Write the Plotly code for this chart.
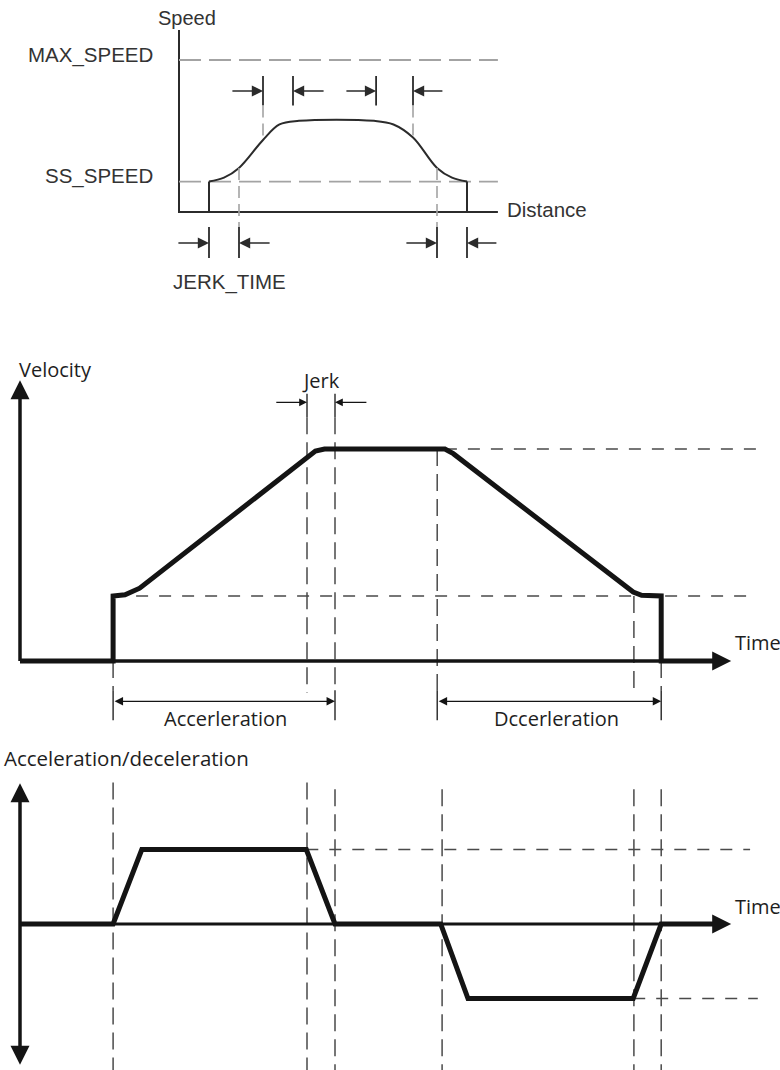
import plotly.graph_objects as go

# ---------------------------------------------------------------------
# Data (diagram units)
# ---------------------------------------------------------------------
# Panel 1: speed over distance (S-curve with JERK_TIME)
DIST_END = 10.63
SPEED_TOP = 5.99
SPEED_LABELS = ["MAX_SPEED", "SS_SPEED"]
SPEED_LEVELS = [5.0, 1.0]
SS_SPEED = SPEED_LEVELS[1]
JUMP_D = [1.0, 9.6]                       # step from 0 up to SS_SPEED
CURVE_D = [1.0, 1.5, 2.0, 2.8, 3.35, 4.0, 6.5, 7.15, 7.8, 8.6, 9.1, 9.6]
CURVE_S = [1.0, 1.13, 1.45, 2.37, 2.88, 3.0, 3.0, 2.88, 2.45, 1.45, 1.13, 1.0]
TOP_MARKS = [2.8, 3.8, 6.57, 7.8]
TOP_MARK_DROP = [2.37, None, None, 2.5]   # dashed guide down to the curve
BOTTOM_MARKS = [1.0, 2.0, 8.6, 9.6]
BOTTOM_MARK_RISE = [None, 1.45, 1.45, None]
TOP_ARROWS = [(1.73, 2.8), (4.87, 3.8), (5.53, 6.57), (8.83, 7.8)]      # (tail, head)
BOTTOM_ARROWS = [(-0.07, 1.0), (3.07, 2.0), (7.53, 8.6), (10.63, 9.6)]

# Panel 2: velocity over time
VEL_T = [0, 1.33, 1.33, 1.5, 1.71, 4.1, 4.22, 4.35, 6.07, 6.19, 8.76, 8.88, 9.0, 9.16, 9.16, 9.95]
VEL_V = [0, 0, 1.0, 1.02, 1.12, 3.14, 3.23, 3.26, 3.26, 3.19, 1.06, 1.01, 1.0, 1.0, 0, 0]
V_SS = 1.0
V_MAX = 3.26
TIME_TIP = 10.16
VEL_TIP = 4.32
JERK_T = [4.1, 4.5]
ACC_SPAN = (1.33, 4.5)
DEC_SPAN = (5.96, 9.16)

# Panel 3: acceleration / deceleration over time
ACC_T = [0, 1.33, 1.74, 4.09, 4.5, 6.01, 6.4, 8.76, 9.16, 9.95]
ACC_A = [0, 0, 1, 1, 0, 0, -1, -1, 0, 0]
ACC_TIP = 1.89
ACC_GUIDES_T = [1.33, 4.1, 4.5, 6.03, 8.77, 9.16]

# ---------------------------------------------------------------------
# Styles
# ---------------------------------------------------------------------
W, H = 780, 1070
INK1 = "#2b2b2b"
GREY1 = "#a3a3a3"
INK = "#141414"
GUIDE = "#4a4a4a"
FONT1 = "Liberation Sans, Arial, sans-serif"
FONT2 = "Open Sans, Noto Sans, sans-serif"


def line(xs, ys, xa, ya, color, width, dash="solid", shape="linear"):
    return go.Scatter(
        x=xs, y=ys, xaxis=xa, yaxis=ya, mode="lines",
        line=dict(color=color, width=width, dash=dash, shape=shape, smoothing=1.0),
        hoverinfo="skip", showlegend=False,
    )


def tip(x, y, xa, ya, symbol):
    return go.Scatter(
        x=[x], y=[y], xaxis=xa, yaxis=ya, mode="markers",
        marker=dict(symbol=symbol, size=19, color=INK, line=dict(width=0)),
        hoverinfo="skip", showlegend=False,
    )


def label(text, x, y, xr, yr, family, size, color, xanchor="center"):
    return dict(text=text, x=x, y=y, xref=xr, yref=yr, showarrow=False,
                xanchor=xanchor, yanchor="middle",
                font=dict(family=family, size=size, color=color))


def arrow(head, tail, y, xr, yr, color, width, size, both=False):
    a = dict(text="", x=head, y=y, ax=tail, ay=y, xref=xr, yref=yr,
             axref=xr, ayref=yr, showarrow=True, arrowhead=2,
             arrowsize=size, arrowwidth=width, arrowcolor=color, standoff=0)
    if both:
        a.update(arrowside="end+start", startarrowhead=2, startarrowsize=size,
                 startstandoff=0)
    return a


fig = go.Figure()
notes = []

# ---------------- panel 1 ----------------
fig.add_trace(line([0, 0, DIST_END], [SPEED_TOP, 0, 0], "x", "y", INK1, 2))
for lvl in SPEED_LEVELS:
    fig.add_trace(line([0, DIST_END], [lvl, lvl], "x", "y", GREY1, 1.8, "22px,8px"))
for d in JUMP_D:
    fig.add_trace(line([d, d], [0, SS_SPEED], "x", "y", INK1, 2))
fig.add_trace(line(CURVE_D, CURVE_S, "x", "y", INK1, 2, shape="spline"))

for d, drop in zip(TOP_MARKS, TOP_MARK_DROP):
    fig.add_trace(line([d, d], [3.5, 4.47], "x", "y", INK1, 1.8))
    if drop is not None:
        fig.add_trace(line([d, d], [3.5, drop], "x", "y", GREY1, 1.6, "12px,6px"))
for d, rise in zip(BOTTOM_MARKS, BOTTOM_MARK_RISE):
    fig.add_trace(line([d, d], [-0.49, -1.51], "x", "y", INK1, 1.8))
    if rise is not None:
        fig.add_trace(line([d, d], [rise, -0.49], "x", "y", GREY1, 1.6, "12px,6px"))

for tail, head in TOP_ARROWS:
    notes.append(arrow(head, tail, 3.98, "x", "y", INK1, 1.6, 1.4))
for tail, head in BOTTOM_ARROWS:
    notes.append(arrow(head, tail, -1.02, "x", "y", INK1, 1.6, 1.4))

notes.append(label("Speed", 0.27, 6.38, "x", "y", FONT1, 20, "#333"))
for txt, lvl in zip(SPEED_LABELS, [5.16, 1.18]):
    notes.append(label(txt, -0.8, lvl, "x", "y", FONT1, 20.5, "#333", "right"))
notes.append(label("Distance", 10.87, 0.07, "x", "y", FONT1, 20.5, "#333", "left"))
notes.append(label("JERK_TIME", 1.67, -2.3, "x", "y", FONT1, 20.5, "#333"))

# ---------------- panel 2 ----------------
hd2 = "17px,8px"
hh2 = "12px,11px"
fig.add_trace(line([ACC_SPAN[0], 10.47], [V_SS, V_SS], "x2", "y2", GUIDE, 1.5, hh2))
fig.add_trace(line([6.07, 10.54], [V_MAX, V_MAX], "x2", "y2", GUIDE, 1.5, hh2))
for t in JERK_T:
    fig.add_trace(line([t, t], [3.75, 4.11], "x2", "y2", INK, 1.3))
fig.add_trace(line([4.1, 4.1], [3.75, -0.49], "x2", "y2", GUIDE, 1.5, hd2))
fig.add_trace(line([4.5, 4.5], [3.75, -0.45], "x2", "y2", GUIDE, 1.5, hd2))
fig.add_trace(line([DEC_SPAN[0], DEC_SPAN[0]], [V_MAX, -0.45], "x2", "y2", GUIDE, 1.5, hd2))
fig.add_trace(line([8.77, 8.77], [V_SS, -0.49], "x2", "y2", GUIDE, 1.5, hd2))
for t in [ACC_SPAN[0], DEC_SPAN[1]]:
    fig.add_trace(line([t, t], [0, -0.45], "x2", "y2", GUIDE, 1.5, hd2))
for t in [ACC_SPAN[0], ACC_SPAN[1], DEC_SPAN[0], DEC_SPAN[1]]:
    fig.add_trace(line([t, t], [-0.45, -0.91], "x2", "y2", INK, 1.3))

fig.add_trace(line([0, 0], [0, VEL_TIP - 0.1], "x2", "y2", INK, 3.5))
fig.add_trace(line([0, TIME_TIP - 0.1], [0, 0], "x2", "y2", INK, 3.3))
fig.add_trace(line(VEL_T, VEL_V, "x2", "y2", INK, 5))
fig.add_trace(tip(0, VEL_TIP, "x2", "y2", "arrow-up"))
fig.add_trace(tip(TIME_TIP, 0, "x2", "y2", "arrow-right"))

notes.append(arrow(JERK_T[0], 3.64, 3.98, "x2", "y2", INK, 1.2, 1.3))
notes.append(arrow(JERK_T[1], 4.97, 3.98, "x2", "y2", INK, 1.2, 1.3))
notes.append(arrow(ACC_SPAN[1], ACC_SPAN[0], -0.62, "x2", "y2", INK, 1.3, 1.3, both=True))
notes.append(arrow(DEC_SPAN[1], DEC_SPAN[0], -0.62, "x2", "y2", INK, 1.3, 1.3, both=True))

notes.append(label("Velocity", -0.04, 4.48, "x2", "y2", FONT2, 20, "#1e1e1e", "left"))
notes.append(label("Jerk", 4.3, 4.31, "x2", "y2", FONT2, 20, "#1e1e1e"))
notes.append(label("Time", 10.19, 0.28, "x2", "y2", FONT2, 20, "#1e1e1e", "left"))
notes.append(label("Accerleration", 2.93, -0.89, "x2", "y2", FONT2, 20, "#1e1e1e"))
notes.append(label("Dccerleration", 7.67, -0.89, "x2", "y2", FONT2, 20, "#1e1e1e"))

# ---------------- panel 3 ----------------
fig.add_trace(line([4.09, 10.43], [1, 1], "x3", "y3", GUIDE, 1.5, hh2))
fig.add_trace(line([8.76, 10.54], [-1, -1], "x3", "y3", GUIDE, 1.5, hh2))
for i, t in enumerate(ACC_GUIDES_T):
    top = 1.9 if i < 2 else 1.81
    fig.add_trace(line([t, t], [top, -1.96], "x3", "y3", GUIDE, 1.5, hd2))

fig.add_trace(line([0, 0], [-ACC_TIP + 0.1, ACC_TIP - 0.1], "x3", "y3", INK, 3.5))
fig.add_trace(line([0, TIME_TIP - 0.1], [0, 0], "x3", "y3", INK, 3))
fig.add_trace(line(ACC_T, ACC_A, "x3", "y3", INK, 5))
fig.add_trace(tip(0, ACC_TIP, "x3", "y3", "arrow-up"))
fig.add_trace(tip(0, -ACC_TIP, "x3", "y3", "arrow-down"))
fig.add_trace(tip(TIME_TIP, 0, "x3", "y3", "arrow-right"))

notes.append(label("Acceleration/deceleration", -0.26, 2.23, "x3", "y3", FONT2, 20.5, "#1e1e1e", "left"))
notes.append(label("Time", 10.19, 0.23, "x3", "y3", FONT2, 20, "#1e1e1e", "left"))

# ---------------------------------------------------------------------
# Layout: every panel overlays the full canvas, ranges place the origins
# ---------------------------------------------------------------------
def rng(origin_px, px_per_unit, span_px, flip=False):
    if flip:
        return [(origin_px - span_px) / px_per_unit, origin_px / px_per_unit]
    return [-origin_px / px_per_unit, (span_px - origin_px) / px_per_unit]


hidden = dict(visible=False, showgrid=False, zeroline=False, fixedrange=True)
fig.update_layout(
    width=W, height=H,
    margin=dict(l=0, r=0, t=0, b=0),
    paper_bgcolor="white",
    plot_bgcolor="rgba(0,0,0,0)",
    showlegend=False,
    hovermode=False,
    xaxis=dict(domain=[0, 1], range=rng(179, 30.0, W), **hidden),
    yaxis=dict(domain=[0, 1], range=rng(212, 30.4, H, flip=True), **hidden),
    xaxis2=dict(overlaying="x", range=rng(20, 70.0, W), **hidden),
    yaxis2=dict(overlaying="y", range=rng(661, 65.0, H, flip=True), **hidden),
    xaxis3=dict(overlaying="x", range=rng(20, 70.0, W), **hidden),
    yaxis3=dict(overlaying="y", range=rng(924, 74.5, H, flip=True), **hidden),
    annotations=notes,
)

# the page body has a default 8px margin; drop it so the canvas sits at 0,0
fig.write_html(
    "out.html",
    config={"displayModeBar": False},
    post_script="document.body.style.margin='0';",
)
